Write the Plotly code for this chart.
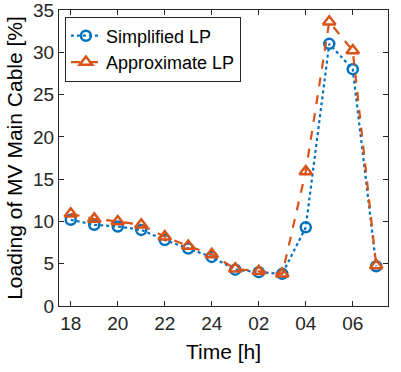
import plotly.graph_objects as go

hours = [18, 19, 20, 21, 22, 23, 24, 1, 2, 3, 4, 5, 6, 7]
tick_labels = ["18", "20", "22", "24", "02", "04", "06"]
simplified = [10.2, 9.6, 9.4, 9.0, 7.8, 6.8, 5.8, 4.3, 4.0, 3.8, 9.3, 31.0, 28.0, 4.7]
approximate = [10.9, 10.3, 10.0, 9.6, 8.2, 7.1, 6.1, 4.4, 4.1, 3.8, 15.9, 33.6, 30.2, 4.8]

xs = list(range(len(hours)))

fig = go.Figure()
fig.add_trace(go.Scatter(
    x=xs, y=simplified, name="Simplified LP", mode="lines+markers",
    line=dict(color="#0072BD", width=2.2, dash="dot"),
    marker=dict(symbol="circle-open", size=10, color="#0072BD", line=dict(width=2.5)),
))
fig.add_trace(go.Scatter(
    x=xs, y=approximate, name="Approximate LP", mode="lines+markers",
    line=dict(color="#D95319", width=2.2, dash="dash"),
    marker=dict(symbol="triangle-up-open", size=11, color="#D95319", line=dict(width=2.5)),
))

font = "Liberation Sans, Arial, sans-serif"
fig.update_layout(
    width=401, height=372,
    margin=dict(l=59, r=13, t=10, b=66, autoexpand=False),
    paper_bgcolor="white", plot_bgcolor="white",
    font=dict(family=font, size=19, color="#262626"),
    showlegend=True,
    legend=dict(x=0.018, y=0.978, xanchor="left", yanchor="top",
                bgcolor="white", bordercolor="#262626", borderwidth=1,
                font=dict(size=18, color="black"), tracegroupgap=0,
                itemwidth=30),
    xaxis=dict(
        range=[-0.5, 13.5], tickmode="array",
        tickvals=[0, 2, 4, 6, 8, 10, 12], ticktext=tick_labels,
        ticks="inside", ticklen=5, tickcolor="#262626",
        showline=True, linecolor="#262626", linewidth=1, mirror="allticks",
        showgrid=False, zeroline=False, ticklabeloverflow="allow",
        title=dict(text="Time [h]", font=dict(size=21, color="black"), standoff=11),
    ),
    yaxis=dict(
        range=[0, 35], tickmode="array", tickvals=[0, 5, 10, 15, 20, 25, 30, 35],
        ticks="inside", ticklen=5, tickcolor="#262626",
        showline=True, linecolor="#262626", linewidth=1, mirror="allticks",
        showgrid=False, zeroline=False, ticklabeloverflow="allow",
        title=dict(text="Loading of MV Main Cable [%]", font=dict(size=21, color="black"), standoff=4),
    ),
)

fig.write_html("out.html")
